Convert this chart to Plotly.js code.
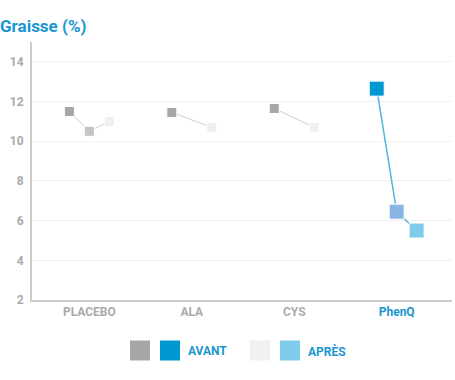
<!DOCTYPE html>
<html><head><meta charset="utf-8">
<script src="https://cdn.plot.ly/plotly-3.0.1.min.js"></script>
<style>html,body{margin:0;padding:0;background:#fff}#chart{width:455px;height:380px}</style>
</head><body><div id="chart"></div>
<script>
const categories = ['PLACEBO', 'ALA', 'CYS', 'PhenQ'];
const avant = [11.5, 11.45, 11.65, 12.65];
const milieu = [10.5, null, null, 6.45];
const apres = [11.0, 10.7, 10.7, 5.5];
const yTicks = [2, 4, 6, 8, 10, 12, 14];

const avantColors = ['#a6a6a6', '#a6a6a6', '#a6a6a6', '#0098d0'];
const milieuColors = ['#c3c3c3', '#c3c3c3', '#c3c3c3', '#88b5e2'];
const apresColors = ['#f0f0f0', '#f0f0f0', '#f0f0f0', '#7ecbea'];
const lineColors = ['#cccccc', '#cccccc', '#cccccc', '#52b6df'];
const sizes = [10, 10, 10, 15];
const off = 0.195;

const traces = [];
categories.forEach((c, i) => {
  const xs = [], ys = [];
  xs.push(i - off); ys.push(avant[i]);
  if (milieu[i] !== null) { xs.push(i); ys.push(milieu[i]); }
  xs.push(i + off); ys.push(apres[i]);
  traces.push({x: xs, y: ys, type: 'scatter', mode: 'lines', line: {color: lineColors[i], width: i === 3 ? 1.5 : 1}, hoverinfo: 'skip', showlegend: false});
});
const idx = categories.map((c, i) => i);
const has = idx.filter(i => milieu[i] !== null);
traces.push({x: idx.map(i => i - off), y: avant, type: 'scatter', mode: 'markers', marker: {symbol: 'square', size: sizes, opacity: 1, color: avantColors}, showlegend: false});
traces.push({x: has, y: has.map(i => milieu[i]), type: 'scatter', mode: 'markers', marker: {symbol: 'square', size: has.map(i => sizes[i]), opacity: 1, color: has.map(i => milieuColors[i])}, showlegend: false});
traces.push({x: idx.map(i => i + off), y: apres, type: 'scatter', mode: 'markers', marker: {symbol: 'square', size: sizes, opacity: 1, color: apresColors}, showlegend: false});

const tickText = categories.map((c, i) => i === 3 ? '<span style="color:#1a96d0">' + c + '</span>' : c);

const layout = {
  width: 455, height: 380,
  margin: {l: 32, r: 3, t: 42, b: 80},
  paper_bgcolor: '#fff', plot_bgcolor: '#fff',
  font: {family: 'Roboto, sans-serif', color: '#aaaaaa'},
  title: {text: '<b>Graisse (%)</b>', x: 0, xanchor: 'left', xref: 'container', y: 1 - 26 / 380, yref: 'container', yanchor: 'middle', font: {size: 17, color: '#1a96d0', family: 'Roboto, sans-serif'}, pad: {l: 0, t: 0, b: 0, r: 0}},
  xaxis: {range: [-0.56, 3.54], tickvals: idx, ticktext: tickText, showgrid: false, zeroline: false, showline: true, linecolor: '#cccccc', linewidth: 2, ticks: '', tickfont: {size: 12, color: '#aaaaaa', family: 'Roboto, sans-serif', weight: 'bold'}, fixedrange: true},
  yaxis: {range: [2, 15], tickvals: yTicks, showgrid: true, gridcolor: '#f1f1f1', gridwidth: 1, zeroline: false, showline: true, linecolor: '#cccccc', linewidth: 2, ticks: '', ticklabelstandoff: 4, tickfont: {size: 12, color: '#aaaaaa', family: 'Roboto, sans-serif', weight: 'bold'}, fixedrange: true},
  shapes: [],
  annotations: []
};
const pw = 455 - 32 - 3, ph = 380 - 42 - 80;
const px = x => (x - 32) / pw, py = y => (380 - 80 - y) / ph;
[[130, '#a6a6a6'], [160, '#0098d0'], [250, '#f0f0f0'], [280, '#7ecbea']].forEach(([x, col]) => {
  layout.shapes.push({type: 'rect', xref: 'paper', yref: 'paper', x0: px(x), x1: px(x + 20), y0: py(360.5), y1: py(340.5), line: {width: 0}, fillcolor: col});
});
layout.annotations.push({text: '<b>AVANT</b>', xref: 'paper', yref: 'paper', x: px(186), y: py(351), xanchor: 'left', yanchor: 'middle', showarrow: false, font: {size: 12, color: '#1a96d0', family: 'Roboto, sans-serif'}});
layout.annotations.push({text: '<b>APRÈS</b>', xref: 'paper', yref: 'paper', x: px(306), y: py(351), xanchor: 'left', yanchor: 'middle', showarrow: false, font: {size: 12, color: '#1a96d0', family: 'Roboto, sans-serif'}});

Plotly.newPlot('chart', traces, layout, {displayModeBar: false, staticPlot: true});
</script></body></html>
